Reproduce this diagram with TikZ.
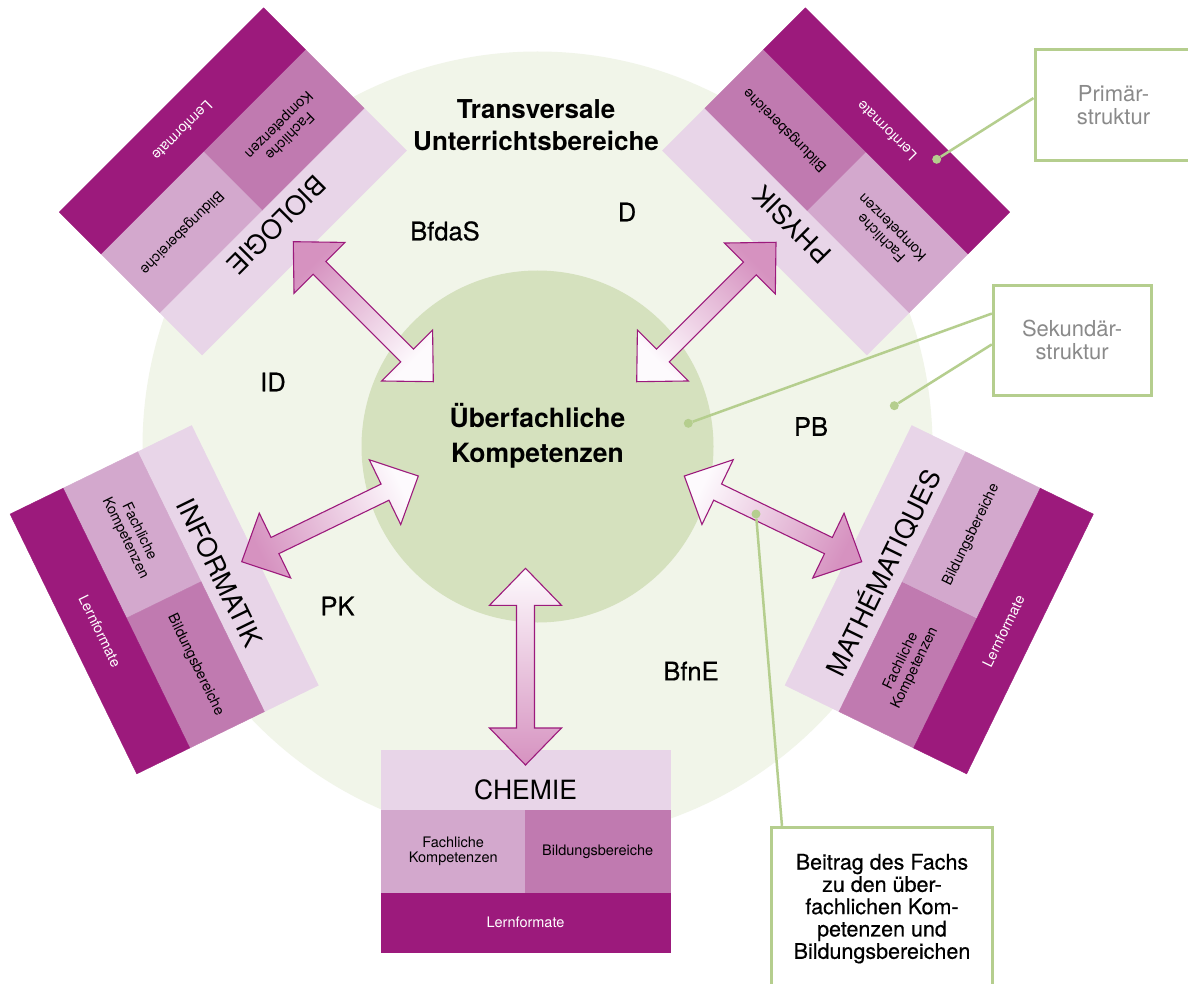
\documentclass[tikz,border=0pt]{standalone}
\usepackage{fontspec}
\setmainfont{TeX Gyre Heros}
\newfontfamily\medfont{TeX Gyre Heros}[FakeBold=0.5]
\usetikzlibrary{calc}
\definecolor{bigc}{RGB}{241,245,233}
\definecolor{innerc}{RGB}{213,225,190}
\definecolor{greenl}{RGB}{181,206,142}
\definecolor{titlec}{RGB}{232,213,232}
\definecolor{cella}{RGB}{211,168,205}
\definecolor{cellb}{RGB}{192,122,176}
\definecolor{lern}{RGB}{156,26,124}
\definecolor{arrowpink}{RGB}{214,146,192}
\definecolor{arrowwhite}{RGB}{253,250,253}
\definecolor{graytext}{RGB}{138,138,138}

\tikzset{
  band/.style={rectangle, inner sep=0pt, minimum width=289pt},
  titleband/.style={band, fill=titlec, draw=titlec, line width=0.4pt, minimum height=60pt,
     font=\fontsize{26.5}{30}\selectfont, text height=38pt, text depth=0pt},
  lernband/.style={band, fill=lern, draw=lern, line width=0.4pt, minimum height=59pt, text=white,
     font=\fontsize{14.5}{16}\selectfont},
  cellbox/.style={rectangle, inner sep=0pt, minimum width=144.5pt, minimum height=83pt,
     fill=#1, draw=#1, line width=0.4pt, align=center, font=\fontsize{14.5}{15.5}\selectfont},
  lbl/.style={inner sep=0pt, font=\medfont\fontsize{25.5}{30}\selectfont},
  gbox/.style={rectangle, draw=greenl, line width=3pt, fill=white, inner sep=0pt, align=center},
  gline/.style={draw=greenl, line width=2.5pt},
  gdot/.style={circle, fill=greenl, inner sep=0pt, minimum size=9pt},
  fatarrow/.style={draw=lern, line width=1.1pt, line join=miter,
    top color=arrowwhite, bottom color=arrowpink, shading angle=#1,
    to path={
      -- ($(\tikztostart)!37pt!(\tikztotarget)!36pt!90:(\tikztotarget)$)
      -- ($(\tikztostart)!37pt!(\tikztotarget)!9pt!90:(\tikztotarget)$)
      -- ($(\tikztotarget)!37pt!(\tikztostart)!9pt!-90:(\tikztostart)$)
      -- ($(\tikztotarget)!37pt!(\tikztostart)!36pt!-90:(\tikztostart)$)
      -- (\tikztotarget)
      -- ($(\tikztotarget)!37pt!(\tikztostart)!36pt!90:(\tikztostart)$)
      -- ($(\tikztotarget)!37pt!(\tikztostart)!9pt!90:(\tikztostart)$)
      -- ($(\tikztostart)!37pt!(\tikztotarget)!9pt!-90:(\tikztotarget)$)
      -- ($(\tikztostart)!37pt!(\tikztotarget)!36pt!-90:(\tikztotarget)$)
      -- cycle}},
}

% #1 name, #2 #3 centre, #4 rotation, #5 title, #6 left text, #7 left colour, #8 right text, #9 right colour
\newcommand\subjblock[9]{%
  \begin{scope}[shift={(#2,#3)}, rotate=#4, transform shape]
    \node[titleband] (#1-title) at (0,-71) {#5};
    \node[cellbox=#7] (#1-left) at (-72.25,0.5) {#6};
    \node[cellbox=#9] (#1-right) at (72.25,0.5) {#8};
    \node[lernband] (#1-lern) at (0,71.5) {Lernformate};
  \end{scope}}

\begin{document}
\begin{tikzpicture}[x=1pt, y=-1pt]
\useasboundingbox (0,0) rectangle (1188,984);
\clip (0,0) rectangle (1188,984);
\fill[white] (0,0) rectangle (1188,984);

% circles
\node[circle, fill=bigc, inner sep=0pt, minimum size=790pt] (outer) at (537.5,446.5) {};
\node[circle, fill=innerc, inner sep=0pt, minimum size=352pt] (inner) at (537.5,446.5) {};

% subject blocks
\subjblock{chem}{525.5}{851}{0}{CHEMIE}{Fachliche\\Kompetenzen}{cella}{Bildungsbereiche}{cellb}
\subjblock{info}{164.2}{599.7}{-64}{INFORMATIK}{Fachliche\\Kompetenzen}{cella}{Bildungsbereiche}{cellb}
\subjblock{math}{939.2}{599.7}{64}{MATHÉMATIQUES}{Fachliche\\Kompetenzen}{cellb}{Bildungsbereiche}{cella}
\subjblock{bio}{232.9}{181.4}{-135}{BIOLOGIE}{Fachliche\\Kompetenzen}{cellb}{Bildungsbereiche}{cella}
\subjblock{phys}{836.1}{181.4}{135}{PHYSIK}{Fachliche\\Kompetenzen}{cella}{Bildungsbereiche}{cellb}

% arrows
\coordinate (chem-in) at (525.5,568.3);  \coordinate (chem-out) at (525.5,765);
\coordinate (bio-in)  at (433.3,381.7);  \coordinate (bio-out)  at (293.3,241.7);
\coordinate (phys-in) at (636.7,381.7);  \coordinate (phys-out) at (776,242.3);
\coordinate (info-in) at (418.3,476);    \coordinate (info-out) at (241.7,561.7);
\coordinate (math-in) at (684.3,476);    \coordinate (math-out) at (861.7,561.7);
\draw[fatarrow=0]    (chem-in) to (chem-out);
\draw[fatarrow=-135] (bio-in)  to (bio-out);
\draw[fatarrow=135]  (phys-in) to (phys-out);
\draw[fatarrow=-64]  (info-in) to (info-out);
\draw[fatarrow=64]   (math-in) to (math-out);

% headings
\node[inner sep=0pt, align=center, font=\bfseries\fontsize{26}{32.7}\selectfont] (trans) at (536,125.3) {Transversale\\Unterrichtsbereiche};
\node[inner sep=0pt, align=center, font=\bfseries\fontsize{26.5}{34.4}\selectfont] (ueber) at (537.5,436) {Überfachliche\\Kompetenzen};

% labels
\node[lbl] (bfdas) at (445,231) {BfdaS};
\node[lbl] (d)     at (627,212) {D};
\node[lbl] (id)    at (273,382) {ID};
\node[lbl] (pk)    at (337.5,606) {PK};
\node[lbl] (pb)    at (811,426.5) {PB};
\node[lbl] (bfne)  at (691,671) {BfnE};

% legend boxes
\node[gbox, minimum width=157pt, minimum height=110.7pt, text=graytext, font=\fontsize{22}{23.3}\selectfont] (prim) at (1113.5,105.35) {Primär-\\struktur};
\node[gbox, minimum width=157.7pt, minimum height=110pt, text=graytext, font=\fontsize{22}{23.3}\selectfont] (sek) at (1072.15,340) {Sekundär-\\struktur};
\node[gbox, minimum width=220.6pt, minimum height=162.7pt, font=\medfont\fontsize{21.5}{22.3}\selectfont] (beitrag) at (882,908.65) {Beitrag des Fachs\\zu den über-\\fachlichen Kom-\\petenzen und\\Bildungsbereichen};

% pointer lines
\node[gdot] (prim-dot) at (936.7,159.3) {};
\node[gdot] (sek-dot1) at (688.3,423.3) {};
\node[gdot] (sek-dot2) at (894.3,405.7) {};
\node[gdot] (beit-dot) at (756,514) {};
\draw[gline] (prim-dot) -- ($(prim.north west)!0.436!(prim.south west)$);
\draw[gline] (sek-dot1) -- ($(sek.north west)!0.266!(sek.south west)$);
\draw[gline] (sek-dot2) -- ($(sek.north west)!0.539!(sek.south west)$);
\draw[gline] (beit-dot) -- ($(beitrag.north west)!0.0526!(beitrag.north east)$);
\end{tikzpicture}
\end{document}
